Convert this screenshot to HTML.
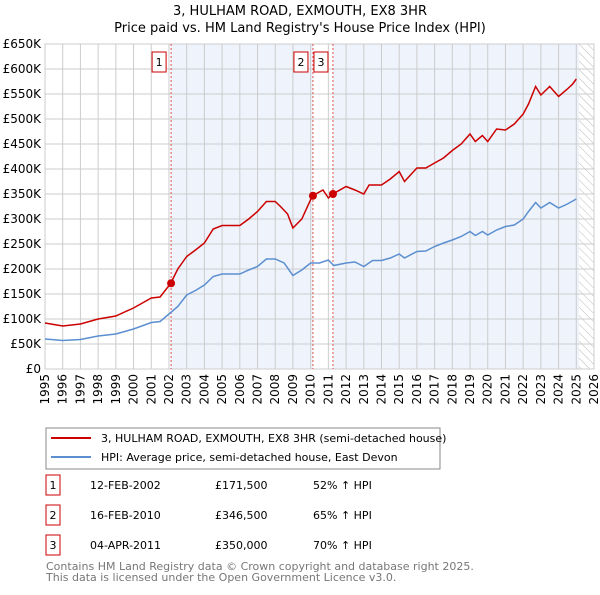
<!DOCTYPE html>
<html><head><meta charset="utf-8"><style>
body{margin:0;background:#fff;font-family:"Liberation Sans","DejaVu Sans",sans-serif;}
svg text{font-family:"DejaVu Sans","Liberation Sans",sans-serif;}
</style></head><body>
<svg id="chart" width="600" height="590" viewBox="0 0 600 590" xmlns="http://www.w3.org/2000/svg">
<defs><pattern id="hatch" width="6" height="6" patternUnits="userSpaceOnUse" patternTransform="rotate(-45)"><line x1="0" y1="0" x2="0" y2="6" stroke="#bbb" stroke-width="1"/></pattern></defs>
<text x="300" y="15" text-anchor="middle" font-size="13">3, HULHAM ROAD, EXMOUTH, EX8 3HR</text>
<text x="300" y="32" text-anchor="middle" font-size="13">Price paid vs. HM Land Registry's House Price Index (HPI)</text>
<g id="plot"></g>
<g>
<rect x="46" y="428" width="394" height="41" fill="#fff" stroke="#888"/>
<line x1="51" y1="438" x2="91" y2="438" stroke="#cc0000" stroke-width="2"/>
<text x="101" y="442" font-size="11">3, HULHAM ROAD, EXMOUTH, EX8 3HR (semi-detached house)</text>
<line x1="51" y1="457" x2="91" y2="457" stroke="#5b8fd0" stroke-width="2"/>
<text x="101" y="461" font-size="11">HPI: Average price, semi-detached house, East Devon</text>
</g>
<g id="table" font-size="11"></g>
<text x="46" y="570" font-size="11" fill="#777">Contains HM Land Registry data © Crown copyright and database right 2025.</text>
<text x="46" y="581" font-size="11" fill="#777">This data is licensed under the Open Government Licence v3.0.</text>
</svg>
<script>
const hpiYears=[1995,1996,1997,1998,1999,2000,2001,2001.5,2002,2002.5,2003,2003.5,2004,2004.5,2005,2005.5,2006,2006.5,2007,2007.5,2008,2008.5,2009,2009.5,2010,2010.5,2011,2011.3,2012,2012.5,2013,2013.5,2014,2014.5,2015,2015.3,2016,2016.5,2017,2017.5,2018,2018.5,2019,2019.3,2019.7,2020,2020.5,2021,2021.5,2022,2022.3,2022.7,2023,2023.5,2024,2024.5,2025];
const hpiValues=[60,57,59,66,70,80,93,95,110,125,148,157,168,185,190,190,190,198,205,220,220,212,187,198,212,212,218,207,212,214,205,217,217,222,230,222,235,236,245,252,258,265,275,267,275,268,278,285,288,300,315,333,322,333,322,330,340];
const priceYears=[1995,1996,1997,1998,1999,2000,2001,2001.5,2002.1,2002.5,2003,2003.5,2004,2004.5,2005,2006,2006.5,2007,2007.5,2008,2008.3,2008.7,2009,2009.5,2010.1,2010.7,2011,2011.25,2012,2012.5,2013,2013.3,2014,2014.5,2015,2015.3,2016,2016.5,2017,2017.5,2018,2018.5,2019,2019.3,2019.7,2020,2020.5,2021,2021.5,2022,2022.3,2022.7,2023,2023.5,2024,2024.5,2024.8,2025];
const priceValues=[92,86,90,100,106,122,142,144,171.5,200,225,238,252,280,287,287,300,315,335,335,325,310,282,300,346.5,358,342,350,365,358,350,368,368,380,395,375,402,402,412,422,437,450,470,455,467,455,480,478,490,510,530,565,548,565,545,560,570,580];
const saleLabels=["1","2","3"];
const saleYears=[2002.12,2010.13,2011.26];
const salePrices=[171.5,346.5,350];
const saleDates=["12-FEB-2002","16-FEB-2010","04-APR-2011"];
const salePriceText=["£171,500","£346,500","£350,000"];
const saleHpiText=["52% ↑ HPI","65% ↑ HPI","70% ↑ HPI"];
const yTicks=[0,50,100,150,200,250,300,350,400,450,500,550,600,650];
const yTickLabels=["£0","£50K","£100K","£150K","£200K","£250K","£300K","£350K","£400K","£450K","£500K","£550K","£600K","£650K"];
const xTicks=[1995,1996,1997,1998,1999,2000,2001,2002,2003,2004,2005,2006,2007,2008,2009,2010,2011,2012,2013,2014,2015,2016,2017,2018,2019,2020,2021,2022,2023,2024,2025,2026];
const dataEnd=2025.15;

const L=45,R=594,T=44,B=369,NS="http://www.w3.org/2000/svg";
const x=v=>L+(v-1995)/(2026-1995)*(R-L);
const y=v=>B-v/650*(B-T);
const plot=document.getElementById('plot');
function mk(tag,attrs,parent){const e=document.createElementNS(NS,tag);for(const k in attrs)e.setAttribute(k,attrs[k]);(parent||plot).appendChild(e);return e;}
let s1=mk('rect',{x:x(saleYears[0]),y:T,width:x(saleYears[1])-x(saleYears[0]),height:B-T,fill:'#e8effb',opacity:0.75});


let s2=mk('rect',{x:x(saleYears[2]),y:T,width:x(dataEnd)-x(saleYears[2]),height:B-T,fill:'#e8effb',opacity:0.75});


let h=mk('rect',{x:x(dataEnd),y:T,width:R-x(dataEnd),height:B-T,fill:'url(#hatch)'});


xTicks.forEach(t=>{const g=mk('line',{x1:x(t),x2:x(t),y1:T,y2:B,stroke:'#ccc','stroke-width':1});


const tx=mk('text',{x:0,y:0,'font-size':12,'text-anchor':'end',transform:`translate(${x(t)+4},${B+5}) rotate(-90)`});tx.textContent=t;

});
yTicks.forEach((t,i)=>{const g=mk('line',{x1:L,x2:R,y1:y(t),y2:y(t),stroke:'#ccc','stroke-width':1});


const tx=mk('text',{x:L-4,y:y(t)+4,'font-size':12,'text-anchor':'end'});tx.textContent=yTickLabels[i];

});
let fr=mk('rect',{x:L,y:T,width:R-L,height:B-T,fill:'none',stroke:'#ccc'});


saleYears.forEach((yr,i)=>{const v=mk('line',{x1:x(yr),x2:x(yr),y1:T,y2:B,stroke:'#e05050','stroke-dasharray':'2,2','stroke-width':1});


const bx=mk('rect',{x:x(yr)-19,y:52,width:14,height:20,fill:'#fff',stroke:'#cc0000'});


const t=mk('text',{x:x(yr)-12,y:66,'font-size':11,'text-anchor':'middle'});t.textContent=saleLabels[i];

});
const pts=(xs,vs)=>xs.map((a,i)=>x(a).toFixed(1)+','+y(vs[i]).toFixed(1)).join(' ');
let hl=mk('polyline',{points:pts(hpiYears,hpiValues),fill:'none',stroke:'#5b8fd0','stroke-width':1.5});


let pl=mk('polyline',{points:pts(priceYears,priceValues),fill:'none',stroke:'#cc0000','stroke-width':1.5});


saleYears.forEach((yr,i)=>{const c=mk('circle',{cx:x(yr),cy:y(salePrices[i]),r:4,fill:'#cc0000'});

});
const tb=document.getElementById('table');
saleLabels.forEach((lb,i)=>{const yy=485+i*30;
const b=mk('rect',{x:46,y:yy-10,width:14,height:20,fill:'#fff',stroke:'#cc0000'},tb);


const vals=[[53,lb,'middle'],[90,saleDates[i],'start'],[215,salePriceText[i],'start'],[313,saleHpiText[i],'start']];
vals.forEach(v=>{const t=mk('text',{x:v[0],y:yy+4,'text-anchor':v[2]},tb);t.textContent=v[1];

});});
</script>
</body></html>
